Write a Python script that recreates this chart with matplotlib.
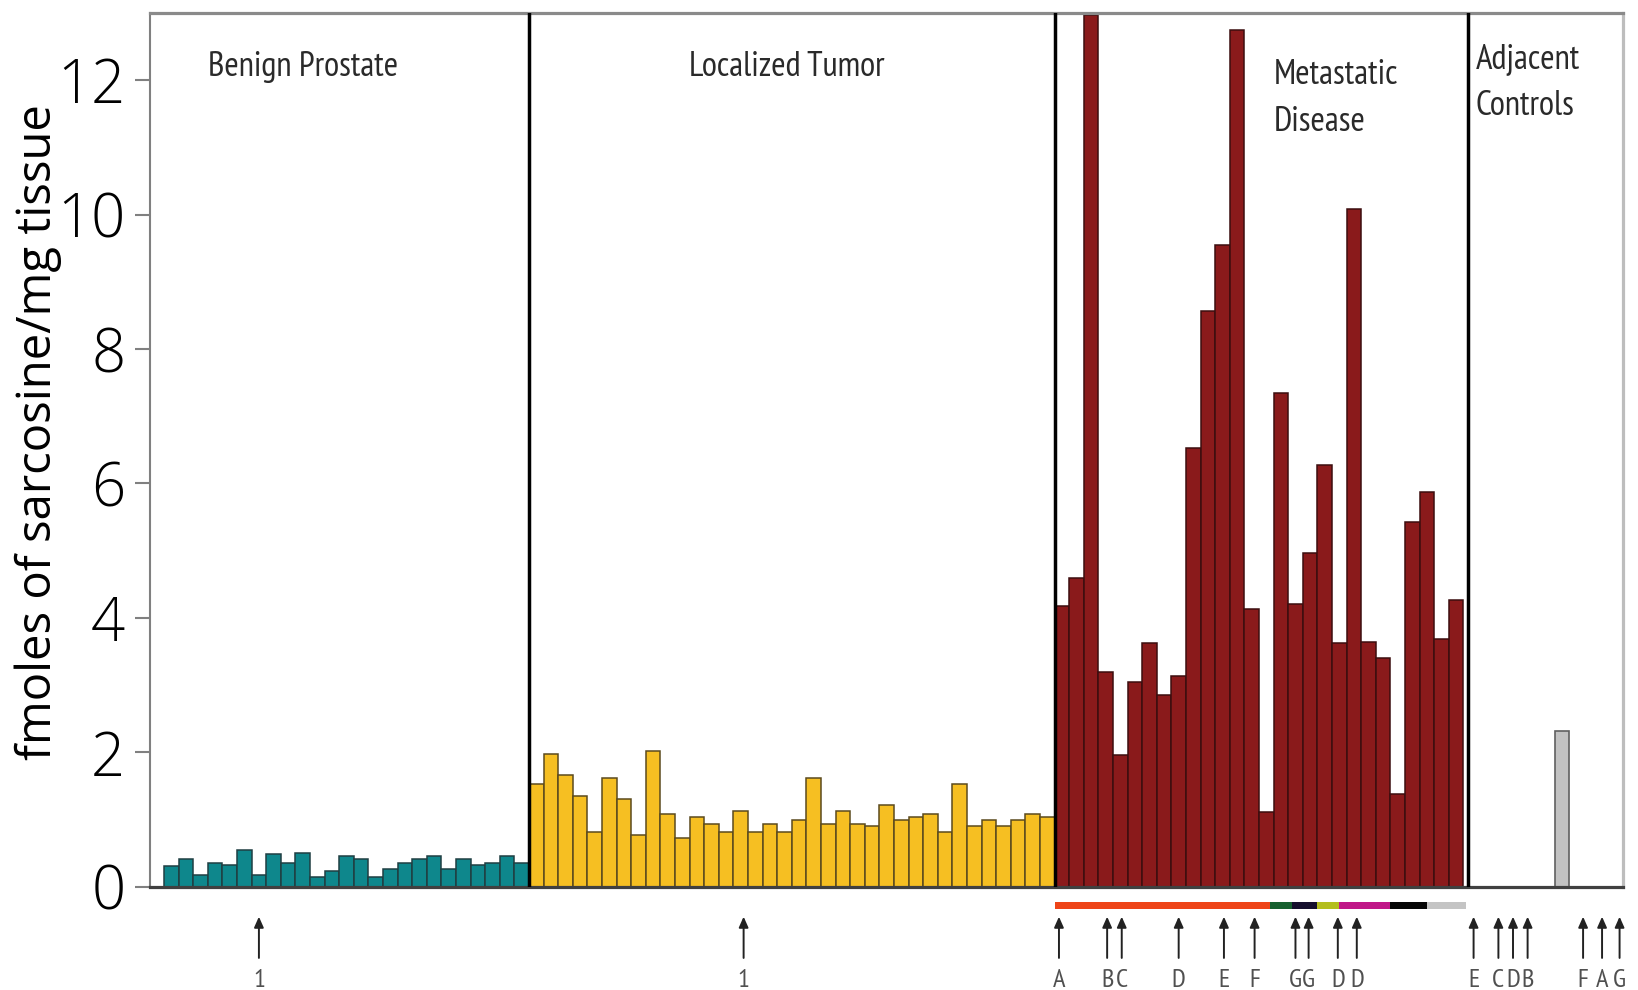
import numpy as np
import matplotlib
matplotlib.use("Agg")
import matplotlib.pyplot as plt

# sarcosine level per sample (fmoles / mg tissue)
benign = [0.31, 0.41, 0.18, 0.36, 0.32, 0.54, 0.18, 0.48, 0.36, 0.50, 0.14, 0.23, 0.45,
          0.41, 0.14, 0.27, 0.36, 0.41, 0.45, 0.27, 0.41, 0.32, 0.36, 0.45, 0.36]
localized = [1.53, 1.98, 1.66, 1.35, 0.81, 1.61, 1.30, 0.77, 2.02, 1.08, 0.72, 1.03,
             0.94, 0.81, 1.13, 0.81, 0.94, 0.81, 0.99, 1.61, 0.94, 1.13, 0.94, 0.90,
             1.21, 0.99, 1.03, 1.08, 0.81, 1.53, 0.90, 0.99, 0.90, 0.99, 1.08, 1.03]
metastatic = [4.17, 4.59, 12.97, 3.19, 1.96, 3.04, 3.63, 2.85, 3.13, 6.53, 8.57, 9.55,
              12.74, 4.13, 1.11, 7.35, 4.21, 4.97, 6.27, 3.63, 10.08, 3.64, 3.41, 1.38,
              5.42, 5.87, 3.68, 4.26]
adjacent = [0, 0, 0, 0, 0, 0, 2.32, 0, 0, 0]

group_names = ["Benign Prostate", "Localized Tumor", "Metastatic\nDisease", "Adjacent\nControls"]

# arrows under the axis (sample position, label)
arrow_x = [6.5, 39.7, 61.3, 64.6, 65.6, 69.5, 72.6, 74.7, 77.5, 78.4, 80.4, 81.7,
           89.7, 91.4, 92.4, 93.4, 97.2, 98.5, 99.7]
arrow_labels = ["1", "1", "A", "B", "C", "D", "E", "F", "G", "G", "D", "D",
                "E", "C", "D", "B", "F", "A", "G"]

# coloured strip under the metastatic samples
strip_edges = [61.03, 75.75, 77.24, 78.95, 80.5, 83.97, 86.5, 89.2]
strip_colors = ["#EE4418", "#17602F", "#150F2D", "#B4BE1E", "#C01788", "#050505", "#C4C4C4"]

yticks = [0, 2, 4, 6, 8, 10, 12]

narrow = ["PT Sans Narrow", "Roboto Condensed", "Archivo Narrow", "Open Sans Condensed", "DejaVu Sans"]
plain = ["Open Sans", "DejaVu Sans"]

fig = plt.figure(figsize=(16.38, 9.9), dpi=100)
ax = fig.add_axes([150 / 1638, 1 - 886.7 / 990, (1622.5 - 150) / 1638, (886.7 - 13) / 990])

n1 = len(benign)
n2 = n1 + len(localized)
n3 = n2 + len(metastatic)
adj_start = n3 + 0.3

ax.bar(np.arange(n1), benign, width=1.0, align="edge",
       color="#0E878C", edgecolor="#1F3F42", linewidth=1.1)
ax.bar(n1 + np.arange(len(localized)), localized, width=1.0, align="edge",
       color="#F6BF22", edgecolor="#5B4A1E", linewidth=1.1)
ax.bar(n2 + np.arange(len(metastatic)), metastatic, width=1.0, align="edge",
       color="#8A1A1B", edgecolor="#3C0E0F", linewidth=1.1)
ax.bar(adj_start + np.arange(len(adjacent)), adjacent, width=0.96, align="edge",
       color="#C2C2C2", edgecolor="#606060", linewidth=1.2)

# group dividers
for xd in [n1, n2, adj_start]:
    ax.axvline(xd, color="black", linewidth=2.5, zorder=3)

ax.set_xlim(-0.96, 99.9)
ax.set_ylim(0, 13.0)

ax.set_xticks([])
ax.set_yticks(yticks)
ax.set_yticklabels([str(t) for t in yticks], fontsize=43, family=plain, fontweight="light")
ax.tick_params(axis="y", direction="out", length=10.8, width=1.5, color="#808080", pad=7)

ax.spines["left"].set_color("#808080")
ax.spines["left"].set_linewidth(1.5)
ax.spines["bottom"].set_color("#404040")
ax.spines["bottom"].set_linewidth(2.3)
ax.spines["top"].set_color("#8A8A8A")
ax.spines["top"].set_linewidth(2.3)
ax.spines["right"].set_color("#BDBDBD")
ax.spines["right"].set_linewidth(2.3)

ax.set_ylabel("fmoles of sarcosine/mg tissue", fontsize=34, family=plain)
ax.yaxis.set_label_coords(-0.0595, 0.52)

# group titles
label_pos = [(9.49, [12.06], "center"), (42.67, [12.06], "center"),
             (76.0, [11.95, 11.25], "left"), (89.84, [12.17, 11.48], "left")]
for name, (x, ys, ha) in zip(group_names, label_pos):
    for line, y in zip(name.split("\n"), ys):
        ax.text(x, y, line, ha=ha, va="baseline", fontsize=25, family=narrow, color="#2A2A2A")

# coloured strip
for i in range(len(strip_colors)):
    ax.broken_barh([(strip_edges[i], strip_edges[i + 1] - strip_edges[i])], (-0.337, 0.113),
                   facecolors=strip_colors[i], clip_on=False)

# sample arrows
for x, lab in zip(arrow_x, arrow_labels):
    ax.annotate("", xy=(x, -0.446), xytext=(x, -1.06), annotation_clip=False,
                arrowprops=dict(arrowstyle="-|>,head_length=0.45,head_width=0.2",
                                mutation_scale=14, color="#222222", lw=1.4,
                                shrinkA=0, shrinkB=0))
    ax.text(x, -1.49, lab, ha="center", va="baseline", fontsize=19, family=narrow,
            color="#505050", clip_on=False)

fig.savefig("out.png", dpi=100)
